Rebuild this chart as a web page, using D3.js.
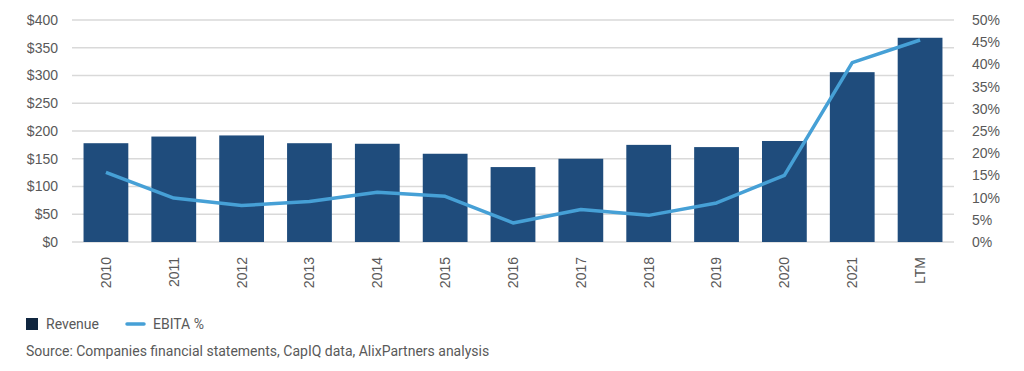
<!DOCTYPE html>
<html>
<head>
  <meta charset="utf-8">
  <title>Revenue and EBITA %</title>
  <script src="https://d3js.org/d3.v7.min.js"></script>
  <style>
    body { margin: 0; background: #fff; }
    svg { display: block; font-family: Roboto, "Open Sans", sans-serif; }
    .tick text { fill: #595959; font-size: 14px; }
  </style>
</head>
<body>
  <svg width="1024" height="371"></svg>

  <script>
    const years = ["2010", "2011", "2012", "2013", "2014", "2015", "2016", "2017", "2018", "2019", "2020", "2021", "LTM"];
    const revenue = [178, 190, 192, 178, 177, 159, 135, 150, 175, 171, 182, 306, 368];
    const ebitaPct = [15.7, 9.9, 8.2, 9.1, 11.2, 10.3, 4.3, 7.3, 6.0, 8.8, 15.0, 40.4, 45.5];
    const revTicks = [0, 50, 100, 150, 200, 250, 300, 350, 400];
    const pctTicks = [0, 5, 10, 15, 20, 25, 30, 35, 40, 45, 50];

    const svg = d3.select("svg");
    const mLeft = 72, mRight = 954, mTop = 20, mBottom = 242;

    const x = d3.scaleBand().domain(years).range([mLeft, mRight]).paddingInner(0.34).paddingOuter(0.17);
    const y = d3.scaleLinear().domain([0, 400]).range([mBottom, mTop]);
    const y2 = d3.scaleLinear().domain([0, 50]).range([mBottom, mTop]);

    // gridlines
    svg.append("g")
      .selectAll("line")
      .data(revTicks)
      .join("line")
      .attr("x1", mLeft).attr("x2", mRight)
      .attr("y1", d => y(d)).attr("y2", d => y(d))
      .attr("stroke", "#d9d9d9")
      .attr("stroke-width", 1.5);

    // left axis
    svg.append("g")
      .attr("transform", `translate(${mLeft - 14},0)`)
      .call(d3.axisLeft(y).tickValues(revTicks).tickFormat(d => "$" + d).tickSize(0).tickPadding(0))
      .call(g => g.select(".domain").remove());

    // right axis
    svg.append("g")
      .attr("transform", `translate(${mRight + 18},0)`)
      .call(d3.axisRight(y2).tickValues(pctTicks).tickFormat(d => d + "%").tickSize(0).tickPadding(0))
      .call(g => g.select(".domain").remove());

    // bars
    svg.append("g")
      .selectAll("rect")
      .data(revenue)
      .join("rect")
      .attr("x", (d, i) => x(years[i]))
      .attr("width", x.bandwidth())
      .attr("y", d => y(d))
      .attr("height", d => y(0) - y(d))
      .attr("fill", "#1f4c7c");

    // x labels
    svg.append("g")
      .attr("transform", `translate(0,${mBottom})`)
      .call(d3.axisBottom(x).tickSize(0).tickPadding(0))
      .call(g => g.select(".domain").remove())
      .selectAll("text")
      .attr("transform", "rotate(-90)")
      .attr("text-anchor", "end")
      .attr("dy", "0.35em")
      .attr("x", -15)
      .attr("y", 0);

    // EBITA line
    const line = d3.line()
      .x((d, i) => x(years[i]) + x.bandwidth() / 2)
      .y(d => y2(d));

    svg.append("path")
      .datum(ebitaPct)
      .attr("d", line)
      .attr("fill", "none")
      .attr("stroke", "#46a0d6")
      .attr("stroke-width", 3.5)
      .attr("stroke-linejoin", "round");

    // legend
    const lg = svg.append("g");
    lg.append("rect").attr("x", 26).attr("y", 318).attr("width", 12).attr("height", 12).attr("fill", "#10263f");
    lg.append("text").attr("x", 46).attr("y", 329).text("Revenue")
      .attr("font-size", 14).attr("fill", "#595959");
    lg.append("line").attr("x1", 127).attr("x2", 144).attr("y1", 324).attr("y2", 324)
      .attr("stroke", "#46a0d6").attr("stroke-width", 3.5).attr("stroke-linecap", "round");
    lg.append("text").attr("x", 153).attr("y", 329).text("EBITA %")
      .attr("font-size", 14).attr("fill", "#595959");

    svg.append("text").attr("x", 26).attr("y", 356)
      .text("Source: Companies financial statements, CapIQ data, AlixPartners analysis")
      .attr("font-size", 14).attr("fill", "#595959");
  </script>
</body>
</html>
